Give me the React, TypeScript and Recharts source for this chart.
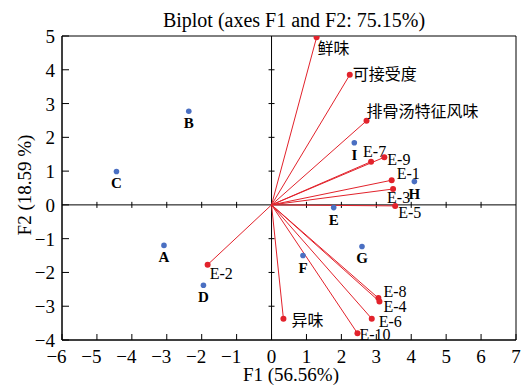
import React from "react";
import { ScatterChart, Scatter, XAxis, YAxis, ReferenceLine, ReferenceArea } from "recharts";

const obsNames = ["A", "B", "C", "D", "E", "F", "G", "H", "I"];
const obsF1 = [-3.08, -2.37, -4.44, -1.95, 1.78, 0.9, 2.59, 4.09, 2.37];
const obsF2 = [-1.2, 2.77, 0.99, -2.38, -0.08, -1.5, -1.23, 0.69, 1.84];

const varNames = ["鲜味", "可接受度", "排骨汤特征风味", "E-7", "E-9", "E-1", "E-3", "E-5", "E-8", "E-4", "E-6", "E-10", "异味", "E-2"];
const varF1 = [1.29, 2.24, 2.72, 2.85, 3.23, 3.44, 3.48, 3.54, 3.06, 3.09, 2.87, 2.46, 0.34, -1.83];
const varF2 = [4.96, 3.85, 2.49, 1.28, 1.41, 0.73, 0.47, -0.03, -2.76, -2.86, -3.37, -3.8, -3.37, -1.77];

const xTicks = [-6, -5, -4, -3, -2, -1, 0, 1, 2, 3, 4, 5, 6, 7];
const yTicks = [-4, -3, -2, -1, 0, 1, 2, 3, 4, 5];

// label placement (px offsets from the point)
const LABEL_OFFSET: Record<string, [number, number]> = {
  "鲜味": [1, 11],
  "可接受度": [3, 0],
  "排骨汤特征风味": [0, -9],
  "E-7": [-8, -10],
  "E-9": [3, 2],
  "E-1": [5, -7],
  "E-3": [-6, 8],
  "E-5": [3, 7],
  "E-8": [5, -7],
  "E-4": [4, 5],
  "E-6": [7, 3],
  "E-10": [2, 1],
  "异味": [8, 2],
  "E-2": [2, 9],
};

const FONT = "'Liberation Serif', 'Times New Roman', 'Noto Sans CJK SC', serif";
const RED = "#e2222b";
const BLUE = "#4a6fc2";

const obsData = obsNames.map((name, i) => ({ name, x: obsF1[i], y: obsF2[i] }));
const varData = varNames.map((name, i) => ({ name, x: varF1[i], y: varF2[i] }));

const fmt = (v: number) => (v < 0 ? "\u2212" + Math.abs(v) : String(v));

function XTick({ x, y, payload }: any) {
  const v = payload.value as number;
  return (
    <text x={x + (v < 0 ? -5.5 : 0)} y={y + 13} textAnchor="middle" fontFamily={FONT} fontSize={19} fill="#000">
      {fmt(v)}
    </text>
  );
}

function YTick({ x, y, payload }: any) {
  return (
    <text x={x} y={y + 7} textAnchor="end" fontFamily={FONT} fontSize={19} fill="#000">
      {fmt(payload.value)}
    </text>
  );
}

function ObsDot({ cx, cy, payload }: any) {
  return (
    <g>
      <circle cx={cx} cy={cy} r={2.8} fill={BLUE} />
      <text x={cx} y={cy + 12} textAnchor="middle" dominantBaseline="central" fontFamily={FONT} fontWeight="bold" fontSize={15} fill="#000">
        {payload.name}
      </text>
    </g>
  );
}

function VarDot({ cx, cy, payload }: any) {
  const [dx, dy] = LABEL_OFFSET[payload.name] || [3, 0];
  return (
    <g>
      <circle cx={cx} cy={cy} r={3} fill={RED} />
      <text x={cx + dx} y={cy + dy} dominantBaseline="central" fontFamily={FONT} fontSize={16} fill="#000">
        {payload.name}
      </text>
    </g>
  );
}

export default function App() {
  return (
    <div style={{ position: "absolute", left: 0, top: 0, width: 522, height: 389, background: "#fff" }}>
      <ScatterChart width={522} height={389} margin={{ top: 36, right: 6, bottom: 0, left: 0 }}>
        <text x={294} y={27} textAnchor="middle" fontFamily={FONT} fontSize={20} fill="#000">
          Biplot (axes F1 and F2: 75.15%)
        </text>
        <text x={291} y={381} textAnchor="middle" fontFamily={FONT} fontSize={19} fill="#000">
          F1 (56.56%)
        </text>
        <text x={31} y={185} textAnchor="middle" fontFamily={FONT} fontSize={19} fill="#000" transform="rotate(-90, 31, 185)">
          F2 (18.59 %)
        </text>
        <XAxis
          type="number"
          dataKey="x"
          domain={[-6, 7]}
          ticks={xTicks}
          height={49}
          allowDataOverflow
          stroke="#000"
          tickSize={-6}
          tickMargin={16}
          tick={<XTick />}
          interval={0}
        />
        <YAxis
          type="number"
          dataKey="y"
          domain={[-4, 5]}
          ticks={yTicks}
          width={62}
          allowDataOverflow
          stroke="#000"
          tickSize={-7}
          tickMargin={14}
          tick={<YTick />}
          interval={0}
        />
        <ReferenceArea x1={-6} x2={7} y1={-4} y2={5} fill="none" fillOpacity={0} stroke="#000" strokeWidth={1} ifOverflow="visible" />
        <ReferenceLine x={0} stroke="#000" strokeWidth={1} />
        <ReferenceLine y={0} stroke="#000" strokeWidth={1} />
        {xTicks.filter((t) => t !== 0 && t !== -6 && t !== 7).map((t) => (
          <ReferenceLine key={"xt" + t} segment={[{ x: t, y: -0.09 }, { x: t, y: 0.09 }]} stroke="#000" ifOverflow="visible" />
        ))}
        {yTicks.filter((t) => t !== 0 && t !== -4 && t !== 5).map((t) => (
          <ReferenceLine key={"yt" + t} segment={[{ x: -0.086, y: t }, { x: 0.086, y: t }]} stroke="#000" ifOverflow="visible" />
        ))}
        {varData.map((d) => (
          <ReferenceLine key={"v" + d.name} segment={[{ x: 0, y: 0 }, { x: d.x, y: d.y }]} stroke={RED} strokeWidth={1} ifOverflow="visible" />
        ))}
        <Scatter data={obsData} fill={BLUE} shape={<ObsDot />} isAnimationActive={false} />
        <Scatter data={varData} fill={RED} shape={<VarDot />} isAnimationActive={false} />
      </ScatterChart>
    </div>
  );
}
